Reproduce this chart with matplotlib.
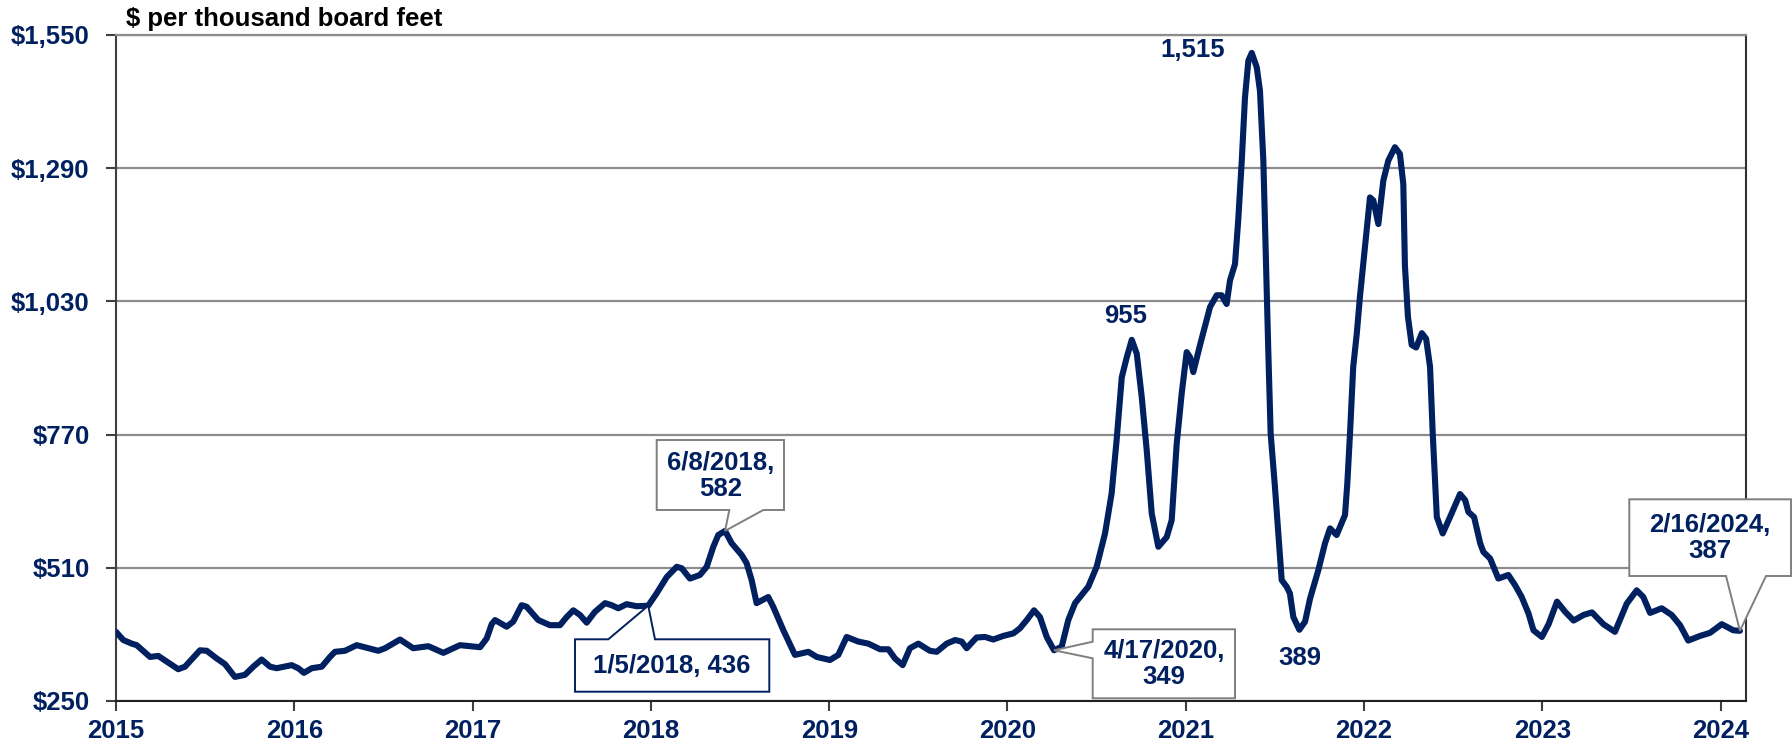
import matplotlib
matplotlib.use("Agg")
import matplotlib.pyplot as plt
from matplotlib.patches import Polygon

# weekly lumber price, $ per thousand board feet
years = [
    2015.000, 2015.041, 2015.088, 2015.116, 2015.191, 2015.237, 2015.284, 2015.349, 2015.387, 2015.471,
    2015.509, 2015.565, 2015.611, 2015.667, 2015.723, 2015.770, 2015.817, 2015.864, 2015.901, 2015.985,
    2016.022, 2016.054, 2016.098, 2016.154, 2016.200, 2016.228, 2016.284, 2016.350, 2016.406, 2016.471,
    2016.509, 2016.593, 2016.667, 2016.752, 2016.836, 2016.929, 2017.042, 2017.079, 2017.107, 2017.126,
    2017.191, 2017.228, 2017.275, 2017.303, 2017.368, 2017.434, 2017.490, 2017.528, 2017.565, 2017.602,
    2017.640, 2017.686, 2017.743, 2017.780, 2017.817, 2017.864, 2017.920, 2017.985, 2018.032, 2018.089,
    2018.145, 2018.173, 2018.219, 2018.275, 2018.313, 2018.350, 2018.378, 2018.416, 2018.453, 2018.509,
    2018.537, 2018.565, 2018.593, 2018.658, 2018.686, 2018.743, 2018.808, 2018.883, 2018.930, 2019.004,
    2019.051, 2019.098, 2019.163, 2019.219, 2019.250, 2019.285, 2019.332, 2019.369, 2019.412, 2019.453,
    2019.500, 2019.565, 2019.603, 2019.659, 2019.706, 2019.743, 2019.771, 2019.827, 2019.874, 2019.920,
    2019.976, 2020.033, 2020.070, 2020.108, 2020.149, 2020.182, 2020.220, 2020.261, 2020.304, 2020.341,
    2020.379, 2020.416, 2020.453, 2020.500, 2020.547, 2020.584, 2020.612, 2020.641, 2020.669, 2020.697,
    2020.725, 2020.753, 2020.781, 2020.809, 2020.846, 2020.893, 2020.921, 2020.949, 2020.977, 2021.005,
    2021.024, 2021.042, 2021.080, 2021.136, 2021.173, 2021.201, 2021.229, 2021.248, 2021.276, 2021.294,
    2021.314, 2021.332, 2021.351, 2021.370, 2021.398, 2021.416, 2021.435, 2021.454, 2021.463, 2021.476,
    2021.500, 2021.519, 2021.538, 2021.566, 2021.584, 2021.603, 2021.637, 2021.669, 2021.697, 2021.743,
    2021.781, 2021.809, 2021.846, 2021.874, 2021.893, 2021.906, 2021.921, 2021.939, 2021.959, 2021.977,
    2022.005, 2022.033, 2022.052, 2022.080, 2022.108, 2022.136, 2022.173, 2022.201, 2022.220, 2022.229,
    2022.246, 2022.267, 2022.292, 2022.324, 2022.348, 2022.370, 2022.385, 2022.408, 2022.441, 2022.482,
    2022.538, 2022.567, 2022.585, 2022.617, 2022.651, 2022.669, 2022.707, 2022.753, 2022.809, 2022.847,
    2022.884, 2022.922, 2022.950, 2022.997, 2023.035, 2023.082, 2023.128, 2023.175, 2023.231, 2023.278,
    2023.342, 2023.407, 2023.473, 2023.529, 2023.566, 2023.604, 2023.669, 2023.725, 2023.772, 2023.818,
    2023.884, 2023.940, 2024.006, 2024.071, 2024.108,
]
prices = [
    385, 369, 362, 359, 336, 338, 327, 312, 317, 349,
    348, 333, 322, 297, 301, 317, 331, 317, 314, 320,
    314, 305, 314, 317, 336, 346, 348, 359, 354, 348,
    353, 370, 353, 357, 344, 359, 355, 372, 400, 408,
    395, 405, 437, 434, 408, 398, 398, 414, 427, 418,
    403, 424, 441, 437, 431, 439, 435, 436, 460, 492,
    512, 509, 489, 496, 512, 551, 574, 582, 558, 535,
    519, 486, 441, 453, 434, 388, 340, 346, 336, 330,
    340, 375, 366, 362, 357, 351, 351, 333, 320, 353,
    362, 348, 346, 362, 369, 366, 353, 374, 375, 370,
    377, 382, 392, 408, 427, 414, 375, 349, 356, 408,
    441, 457, 473, 512, 577, 655, 759, 882, 921, 955,
    928, 843, 739, 616, 551, 570, 603, 752, 850, 931,
    921, 892, 945, 1019, 1042, 1042, 1025, 1071, 1103, 1188,
    1305, 1428, 1500, 1515, 1487, 1441, 1305, 1045, 930, 772,
    668, 577, 486, 473, 460, 414, 389, 405, 450, 505,
    558, 587, 574, 597, 613, 675, 772, 902, 967, 1040,
    1136, 1233, 1227, 1181, 1266, 1305, 1331, 1318, 1259, 1100,
    1000, 945, 940, 968, 957, 902, 772, 609, 577, 609,
    654, 642, 619, 609, 558, 541, 528, 489, 496, 476,
    453, 421, 388, 375, 400, 444, 424, 407, 418, 423,
    400, 385, 440, 466, 453, 422, 431, 418, 398, 368,
    377, 383, 400, 388, 387,
]

yticks = [250, 510, 770, 1030, 1290, 1550]
xticks = list(range(2015, 2025))

# labelled points (position in the series)
peak_2020 = years.index(2020.697)
peak_2021 = years.index(2021.370)
low_2021 = years.index(2021.637)
peak_2018 = years.index(2018.416)
start_2018 = years.index(2017.985)
low_2020 = years.index(2020.261)
last = len(years) - 1

navy = "#002060"
W, H = 1792, 746

plt.rcParams["font.family"] = ["Liberation Sans", "DejaVu Sans"]
plt.rcParams["font.weight"] = "bold"
fs = 18.5

fig = plt.figure(figsize=(W / 100, H / 100), dpi=100)
ax = fig.add_axes([116 / W, 1 - 701 / H, (1746 - 116) / W, (701 - 35) / H])

ax.plot(years, prices, color=navy, lw=4.4, solid_joinstyle="round", solid_capstyle="round", zorder=3)

ax.set_xlim(2015, 2024.142)
ax.set_ylim(250, 1550)
ax.set_yticks(yticks)
ax.set_yticklabels(["${:,}".format(v) for v in yticks])
ax.set_xticks(xticks)
ax.set_xticklabels([str(v) for v in xticks])
ax.grid(axis="y", color="#8c8c8c", lw=1.6, zorder=1)
ax.tick_params(direction="out", length=7, width=1.5, color="#404040",
               labelcolor=navy, labelsize=fs, pad=6)
ax.tick_params(axis="y", pad=12)
for lab in ax.get_xticklabels() + ax.get_yticklabels():
    lab.set_fontweight("bold")
ax.spines["top"].set_color("#8c8c8c")
ax.spines["top"].set_linewidth(1.6)
ax.spines["left"].set_color("#404040")
ax.spines["left"].set_linewidth(1.5)
ax.spines["bottom"].set_color("#202020")
ax.spines["bottom"].set_linewidth(1.5)
ax.spines["right"].set_color("#303030")
ax.spines["right"].set_linewidth(1.5)

fig.text(126 / W, 1 - 26 / H, "$ per thousand board feet", fontsize=fs,
         fontweight="bold", color="black", va="baseline", ha="left")

# plain value labels
ax.annotate("955", (years[peak_2020], prices[peak_2020]), xytext=(-6, 24), textcoords="offset pixels",
            ha="center", va="center", fontsize=fs, color=navy, fontweight="bold")
ax.annotate("1,515", (years[peak_2021], prices[peak_2021]), xytext=(-59, 3), textcoords="offset pixels",
            ha="center", va="center", fontsize=fs, color=navy, fontweight="bold")
ax.annotate("389", (years[low_2021], prices[low_2021]), xytext=(0, -28), textcoords="offset pixels",
            ha="center", va="center", fontsize=fs, color=navy, fontweight="bold")


def px(x, y):
    return (x / W, 1 - y / H)


def callout(text, idx, verts, center, ec):
    tip_disp = ax.transData.transform((years[idx], prices[idx]))
    tip = fig.transFigure.inverted().transform(tip_disp)
    pts = [tuple(tip) if v == "TIP" else px(*v) for v in verts]
    poly = Polygon(pts, closed=True, facecolor="white", edgecolor=ec, lw=1.4,
                   transform=fig.transFigure, zorder=5, clip_on=False)
    fig.add_artist(poly)
    fig.text(*px(*center), text, ha="center", va="center", fontsize=fs,
             color=navy, fontweight="bold", zorder=6, linespacing=1.15)


fig.canvas.draw()
gray = "#7f7f7f"
callout("6/8/2018,\n582", peak_2018,
        [(656.7, 440), (784, 440), (784, 510), (763.3, 510), "TIP", (729.3, 510), (656.7, 510)],
        (720.3, 476), gray)
callout("1/5/2018, 436", start_2018,
        [(575, 639.3), (608.3, 639.3), "TIP", (655, 639.3), (769.3, 639.3), (769.3, 691.7), (575, 691.7)],
        (672, 666), navy)
callout("4/17/2020,\n349", low_2020,
        [(1092.7, 629.3), (1235, 629.3), (1235, 698.3), (1092.7, 698.3), (1092.7, 658.3), "TIP", (1092.7, 641.7)],
        (1164, 664), gray)
callout("2/16/2024,\n387", last,
        [(1629.3, 499.3), (1791, 499.3), (1791, 576), (1766, 576), "TIP", (1726, 576), (1629.3, 576)],
        (1710, 538), gray)

fig.savefig("out.png", dpi=100)
